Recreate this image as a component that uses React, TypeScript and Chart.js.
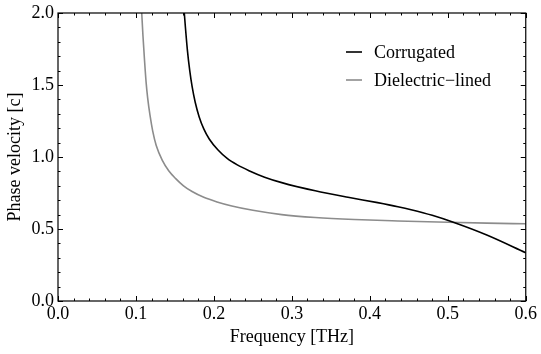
import React, { useEffect, useRef } from "react";
import { Chart, registerables } from "chart.js";

Chart.register(...registerables);

const corrugatedFreq = [0.1605, 0.162, 0.166, 0.169, 0.172, 0.176, 0.181, 0.187, 0.194, 0.205, 0.217, 0.23, 0.245, 0.265, 0.287, 0.33, 0.372, 0.41, 0.436, 0.453, 0.48, 0.508, 0.55, 0.6];
const corrugatedVel = [2.11, 2.0, 1.74, 1.6, 1.49, 1.38, 1.28, 1.195, 1.125, 1.05, 0.99, 0.945, 0.905, 0.86, 0.822, 0.765, 0.72, 0.683, 0.655, 0.634, 0.595, 0.545, 0.458, 0.335];

const dielectricFreq = [0.1063, 0.1074, 0.109, 0.111, 0.113, 0.115, 0.118, 0.1215, 0.126, 0.134, 0.142, 0.151, 0.161, 0.172, 0.187, 0.204, 0.223, 0.25, 0.287, 0.33, 0.38, 0.436, 0.5, 0.55, 0.6];
const dielectricVel = [2.12, 2.0, 1.84, 1.67, 1.52, 1.41, 1.29, 1.18, 1.08, 0.975, 0.905, 0.85, 0.8, 0.76, 0.72, 0.688, 0.66, 0.63, 0.6, 0.58, 0.566, 0.556, 0.547, 0.541, 0.536];

const seriesLabels = ["Corrugated", "Dielectric\u2212lined"];
const seriesColors = ["#000000", "#8c8c8c"];

const xTicks = [0, 0.1, 0.2, 0.3, 0.4, 0.5, 0.6];
const yTicks = [0, 0.5, 1.0, 1.5, 2.0];

const FONT = "'Liberation Serif', 'Times New Roman', serif";

const framePlugin = {
  id: "frameTicks",
  afterDatasetsDraw(chart: any) {
    const { ctx, chartArea } = chart;
    const { left, right, top, bottom } = chartArea;
    const xs = chart.scales.x;
    const ys = chart.scales.y;
    ctx.save();
    ctx.strokeStyle = "#000";
    ctx.lineWidth = 1;
    const major = 5;
    const minor = 2.5;
    ctx.beginPath();
    for (let i = 0; i <= 30; i++) {
      const v = i * 0.02;
      const px = Math.round(xs.getPixelForValue(v)) + 0.5;
      const len = i % 5 === 0 ? major : minor;
      ctx.moveTo(px, bottom);
      ctx.lineTo(px, bottom - len);
      ctx.moveTo(px, top);
      ctx.lineTo(px, top + len);
    }
    for (let i = 0; i <= 20; i++) {
      const v = i * 0.1;
      const py = Math.round(ys.getPixelForValue(v)) + 0.5;
      const len = i % 5 === 0 ? major : minor;
      ctx.moveTo(left, py);
      ctx.lineTo(left + len, py);
      ctx.moveTo(right, py);
      ctx.lineTo(right - len, py);
    }
    ctx.stroke();
    ctx.lineWidth = 1.2;
    ctx.strokeRect(left, top, right - left, bottom - top);

    // legend
    const lx0 = 346;
    const lx1 = 362;
    const tx = 374;
    const rows = [52, 80];
    ctx.font = `18px ${FONT}`;
    ctx.textBaseline = "middle";
    ctx.textAlign = "left";
    chart.data.datasets.forEach((ds: any, i: number) => {
      ctx.strokeStyle = ds.borderColor;
      ctx.lineWidth = 1.6;
      ctx.beginPath();
      ctx.moveTo(lx0, rows[i]);
      ctx.lineTo(lx1, rows[i]);
      ctx.stroke();
      ctx.fillStyle = "#000";
      ctx.fillText(ds.label, tx, rows[i] + 1);
    });
    ctx.restore();
  },
};

export default function App() {
  const ref = useRef<HTMLCanvasElement | null>(null);
  useEffect(() => {
    document.body.style.margin = "0";
    const canvas = ref.current!;
    const toPts = (xs: number[], ys: number[]) => xs.map((x, i) => ({ x, y: ys[i] }));
    const chart = new Chart(canvas, {
      type: "line",
      data: {
        datasets: [
          {
            label: seriesLabels[0],
            data: toPts(corrugatedFreq, corrugatedVel),
            borderColor: seriesColors[0],
            borderWidth: 1.6,
            pointRadius: 0,
            cubicInterpolationMode: "monotone",
            fill: false,
          },
          {
            label: seriesLabels[1],
            data: toPts(dielectricFreq, dielectricVel),
            borderColor: seriesColors[1],
            borderWidth: 1.6,
            pointRadius: 0,
            cubicInterpolationMode: "monotone",
            fill: false,
          },
        ],
      },
      options: {
        responsive: false,
        animation: false,
        layout: { padding: { top: 10, right: 12, left: 0, bottom: 0 } },
        plugins: { legend: { display: false }, tooltip: { enabled: false } },
        scales: {
          x: {
            type: "linear",
            min: 0,
            max: 0.6,
            afterFit: (s: any) => {
              s.height = 53;
            },
            afterBuildTicks: (s: any) => {
              s.ticks = xTicks.map((v) => ({ value: v }));
            },
            grid: { display: false, drawTicks: false },
            border: { display: false },
            ticks: {
              padding: 4,
              color: "#000",
              font: { family: FONT, size: 18, lineHeight: 1 },
              callback: (v: any) => Number(v).toFixed(1),
              maxRotation: 0,
            },
            title: {
              display: true,
              text: "Frequency [THz]",
              color: "#000",
              font: { family: FONT, size: 18, lineHeight: 1 },
              padding: { top: 0, bottom: 8 },
            },
          },
          y: {
            type: "linear",
            min: 0,
            max: 2,
            afterFit: (s: any) => {
              s.width = 58;
            },
            afterBuildTicks: (s: any) => {
              s.ticks = yTicks.map((v) => ({ value: v }));
            },
            grid: { display: false, drawTicks: false },
            border: { display: false },
            ticks: {
              padding: 4,
              color: "#000",
              font: { family: FONT, size: 18, lineHeight: 1 },
              callback: (v: any) => Number(v).toFixed(1),
            },
            title: {
              display: true,
              text: "Phase velocity [c]",
              color: "#000",
              font: { family: FONT, size: 18, lineHeight: 1 },
              padding: { top: 6, bottom: 6 },
            },
          },
        },
      },
      plugins: [framePlugin],
    });
    return () => chart.destroy();
  }, []);
  return <canvas ref={ref} width={541} height={354} style={{ display: "block" }} />;
}
